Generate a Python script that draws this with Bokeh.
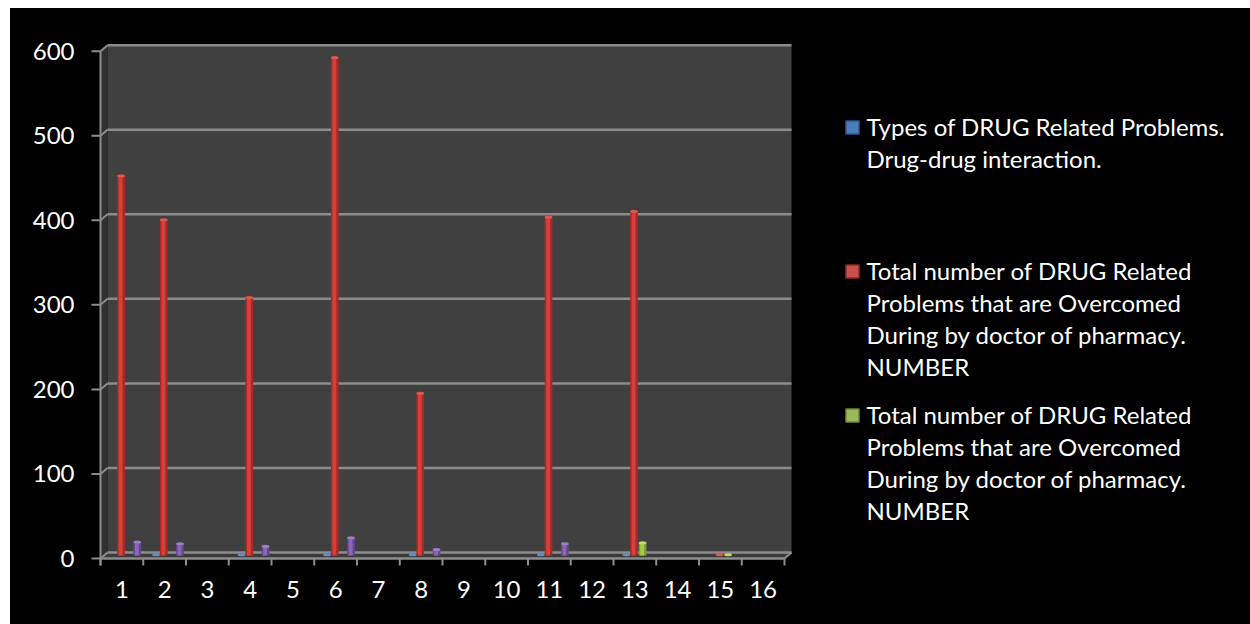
from bokeh.plotting import figure
from bokeh.models import Range1d, FixedTicker
from bokeh.core.properties import value
from bokeh.embed import file_html
from bokeh.resources import INLINE

# ---- data -------------------------------------------------------------
categories = list(range(1, 17))
drug_drug_interaction = [0, 1, 0, 1, 0, 1, 0, 1, 0, 0, 1, 0, 1, 0, 0, 0]
overcome_number = [449, 397, 0, 305, 0, 589, 0, 192, 0, 0, 400, 0, 407, 0, 1, 0]
overcome_number_b = [0, 0, 0, 0, 0, 0, 0, 0, 0, 0, 0, 0, 15, 0, 1, 0]
fourth_series = [16, 14, 0, 11, 0, 21, 0, 7, 0, 0, 14, 0, 0, 0, 0, 0]
y_ticks = [0, 100, 200, 300, 400, 500, 600]

legend_labels = [
    "Types of DRUG Related Problems.\nDrug-drug interaction.",
    "Total number of DRUG Related\nProblems that are Overcomed\nDuring by doctor of pharmacy.\nNUMBER",
    "Total number of DRUG Related\nProblems that are Overcomed\nDuring by doctor of pharmacy.\nNUMBER",
]

# ---- geometry (page pixels) -------------------------------------------
FONT = "Lato"
FONT_SIZE = "24px"
PX_PER_CAT = 42.75        # width of one category slot
AXIS_LEFT_PX = 100        # left end of the category axis
ZERO_PX = 558             # page y of value 0 on the front edge
PX_PER_UNIT = 0.8455      # page pixels per value unit
FRAME_L, FRAME_R, FRAME_T, FRAME_B = 88, 1250, 40, 570
MARGIN_T, MARGIN_L = 8, 10
W, H = 1250 - MARGIN_L, 624 - MARGIN_T

DX = 7 / PX_PER_CAT       # depth offset of the back wall (x, category units)
DY = 6 / PX_PER_UNIT      # depth offset of the back wall (y, value units)
BAR_W = 0.18
N = len(categories)
X0, X1 = 0.5, N + 0.5
VMAX = y_ticks[-1]

x_start = 0.5 - (AXIS_LEFT_PX - FRAME_L) / PX_PER_CAT
x_end = 0.5 + (FRAME_R - AXIS_LEFT_PX) / PX_PER_CAT
y_start = -(FRAME_B - ZERO_PX) / PX_PER_UNIT
y_end = (ZERO_PX - FRAME_T) / PX_PER_UNIT

p = figure(width=W, height=H, output_backend="svg", toolbar_location=None,
           x_range=Range1d(x_start, x_end), y_range=Range1d(y_start, y_end),
           min_border_left=FRAME_L - MARGIN_L, min_border_right=0,
           min_border_top=FRAME_T - MARGIN_T, min_border_bottom=H - (FRAME_B - MARGIN_T),
           background_fill_color="black", border_fill_color="black",
           outline_line_color=None, margin=(MARGIN_T, 0, 0, MARGIN_L),
           styles={"background-color": "black"})
p.xgrid.visible = False
p.ygrid.visible = False

# page-pixel coordinate system for the legend
p.extra_x_ranges = {"px": Range1d(FRAME_L, FRAME_R)}
p.extra_y_ranges = {"px": Range1d(FRAME_B, FRAME_T)}

# ---- 3D walls ----------------------------------------------------------
wall_line = "#8c8c8c"
p.patch([X0, X0 + DX, X0 + DX, X0], [0, DY, VMAX + DY, VMAX],
        fill_color="#303030", line_color=None)
p.quad(left=[X0 + DX], right=[X1 + DX], bottom=[DY], top=[VMAX + DY],
       fill_color="#404040", line_color=None)
p.patch([X0, X1, X1 + DX, X0 + DX], [0, 0, DY, DY],
        fill_color="#3a3a3a", line_color=None)

# gridlines on the back wall and their diagonals on the side wall
p.segment(x0=[X0 + DX] * len(y_ticks), y0=[t + DY for t in y_ticks],
          x1=[X1 + DX] * len(y_ticks), y1=[t + DY for t in y_ticks],
          line_color=wall_line, line_width=2.5)
p.segment(x0=[X0] * len(y_ticks), y0=y_ticks,
          x1=[X0 + DX] * len(y_ticks), y1=[t + DY for t in y_ticks],
          line_color=wall_line, line_width=2)
# right end of the floor
p.segment(x0=[X1], y0=[0], x1=[X1 + DX], y1=[DY], line_color=wall_line, line_width=2)

# value axis line and its tick marks
tick_len_x = 9 / PX_PER_CAT
tick_len_y = 7 / PX_PER_UNIT
p.segment(x0=[X0], y0=[-tick_len_y], x1=[X0], y1=[VMAX], line_color=wall_line, line_width=2)
p.segment(x0=[X0 - tick_len_x] * len(y_ticks), y0=y_ticks,
          x1=[X0] * len(y_ticks), y1=y_ticks, line_color=wall_line, line_width=2)

# category axis line and tick marks at slot boundaries
bounds = [c - 0.5 for c in categories] + [categories[-1] + 0.5]
p.segment(x0=[X0], y0=[0], x1=[X1], y1=[0], line_color=wall_line, line_width=2.5)
p.segment(x0=bounds, y0=[0] * len(bounds), x1=bounds, y1=[-tick_len_y] * len(bounds),
          line_color=wall_line, line_width=2)

# ---- cylinder bars -----------------------------------------------------
series = [
    (drug_drug_interaction, -0.2, "#2f5f9e", "#4f84c6", "#5b8fcf"),
    (overcome_number, -0.02, "#a82a28", "#d63f3a", "#e2564f"),
    (overcome_number_b, 0.18, "#7f9f30", "#a7cb48", "#bcdc62"),
    (fourth_series, 0.36, "#65478f", "#8a66b8", "#9d7fc8"),
]
base = DY / 2
for vals, off, dark, light, cap in series:
    xs = [c + off for c, v in zip(categories, vals) if v > 0]
    vs = [v for v in vals if v > 0]
    if not xs:
        continue
    tops = [v + base for v in vs]
    p.vbar(x=xs, bottom=base, top=tops, width=BAR_W, fill_color=dark, line_color=None)
    p.vbar(x=[x - 0.01 for x in xs], bottom=base, top=tops, width=BAR_W * 0.5,
           fill_color=light, line_color=None)
    p.ellipse(x=xs, y=tops, width=BAR_W, height=3, height_units="screen",
              fill_color=cap, line_color=None)

# ---- axes (labels only) -------------------------------------------------
for ax in (p.xaxis[0], p.yaxis[0]):
    ax.axis_line_color = None
    ax.major_tick_line_color = None
    ax.minor_tick_line_color = None
    ax.major_tick_out = 0
    ax.major_tick_in = 0
    ax.major_label_text_color = "white"
    ax.major_label_text_font = FONT
    ax.major_label_text_font_size = FONT_SIZE
p.xaxis[0].ticker = FixedTicker(ticks=categories)
p.xaxis[0].major_label_standoff = 10
p.yaxis[0].ticker = FixedTicker(ticks=y_ticks)
p.yaxis[0].major_label_standoff = 14

# ---- legend -----------------------------------------------------------
LEG_MARK_X, LEG_TEXT_X = 852, 866
LEG_FIRST_Y, LEG_STEP, LINE_H = 126, 144, 32
legend_colors = [("#4a7ebb", "#2c5a92"), ("#c8504c", "#8f2a27"), ("#9bbb59", "#6d8a34")]
for i, (label, (fc, lc)) in enumerate(zip(legend_labels, legend_colors)):
    y0 = LEG_FIRST_Y + i * LEG_STEP
    p.rect(x=[LEG_MARK_X], y=[y0 + 1], width=13, height=13, fill_color=fc,
           line_color=lc, line_width=1.5, x_range_name="px", y_range_name="px")
    lines = label.split("\n")
    p.text(x=[LEG_TEXT_X] * len(lines), y=[y0 + k * LINE_H for k in range(len(lines))],
           text=lines, text_color="white", text_font=value(FONT), text_font_size=FONT_SIZE,
           text_baseline="middle", text_align="left", x_range_name="px", y_range_name="px")

open("out.html", "w").write(file_html(p, INLINE))
